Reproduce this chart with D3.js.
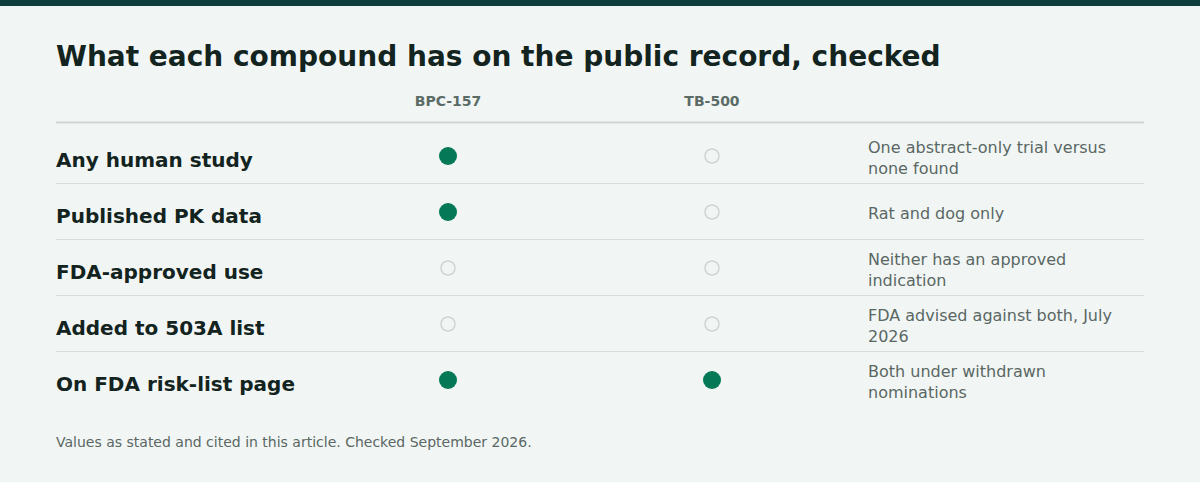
<!DOCTYPE html>
<html><head><meta charset="utf-8">
<script src="https://cdn.jsdelivr.net/npm/d3@7"></script>
<style>body{margin:0;background:#f1f6f5;font-family:"DejaVu Sans",sans-serif;}</style>
</head><body><svg id="c"></svg>
<script>
var columns = ["BPC-157", "TB-500"];
var rows = ["Any human study", "Published PK data", "FDA-approved use", "Added to 503A list", "On FDA risk-list page"];
var bpc = [1, 1, 0, 0, 1];
var tb = [0, 0, 0, 0, 1];
var notes = [
  ["One abstract-only trial versus", "none found"],
  ["Rat and dog only"],
  ["Neither has an approved", "indication"],
  ["FDA advised against both, July", "2026"],
  ["Both under withdrawn", "nominations"]
];

var width = 1200, height = 482;
var svg = d3.select("#c").attr("width", width).attr("height", height);
svg.append("rect").attr("width", width).attr("height", height).attr("fill", "#f1f6f5");
svg.append("rect").attr("width", width).attr("height", 6).attr("fill", "#0f3d3e");

svg.append("text").attr("x", 56).attr("y", 66).text("What each compound has on the public record, checked")
    .attr("style", "font-size:28px;font-weight:bold;fill:#132320");

var x = d3.scalePoint().domain(columns).range([448, 712]);
var y = d3.scaleBand().domain(rows).range([128, 408]);

svg.selectAll(".hdr").data(columns).enter().append("text")
    .attr("x", d => x(d)).attr("y", 106).attr("text-anchor", "middle").text(d => d)
    .attr("style", "font-size:14px;font-weight:bold;fill:#5b6b66");
svg.append("line").attr("x1", 56).attr("x2", 1144).attr("y1", 122.5).attr("y2", 122.5)
    .attr("stroke", "#cfd6d4").attr("stroke-width", 2);

var g = svg.selectAll(".row").data(rows).enter().append("g")
    .attr("transform", d => "translate(0," + (y(d) + y.bandwidth() / 2) + ")");
g.filter((d, i) => i < rows.length - 1).append("line")
    .attr("x1", 56).attr("x2", 1144).attr("y1", y.bandwidth() / 2 - 0.5).attr("y2", y.bandwidth() / 2 - 0.5)
    .attr("stroke", "#d5dcda");
g.append("text").attr("x", 56).attr("y", 11).text(d => d)
    .attr("style", "font-size:20px;font-weight:bold;fill:#132320");

[bpc, tb].forEach(function(vals, j) {
  g.append("circle").attr("cx", x(columns[j]))
    .attr("r", (d, i) => vals[i] ? 9 : 7)
    .attr("fill", (d, i) => vals[i] ? "#047857" : "none")
    .attr("stroke", (d, i) => vals[i] ? "none" : "#cdd3d1")
    .attr("stroke-width", 1.5);
});

g.each(function(d, i) {
  var lines = notes[i];
  var t = d3.select(this).append("text").attr("style", "font-size:16px;fill:#5a6763");
  lines.forEach(function(l, k) {
    t.append("tspan").attr("x", 868).attr("y", (lines.length === 1 ? 7 : -3 + k * 21)).text(l);
  });
});

svg.append("text").attr("x", 56).attr("y", 447).text("Values as stated and cited in this article. Checked September 2026.")
    .attr("style", "font-size:14px;fill:#5a6763");
</script></body></html>
